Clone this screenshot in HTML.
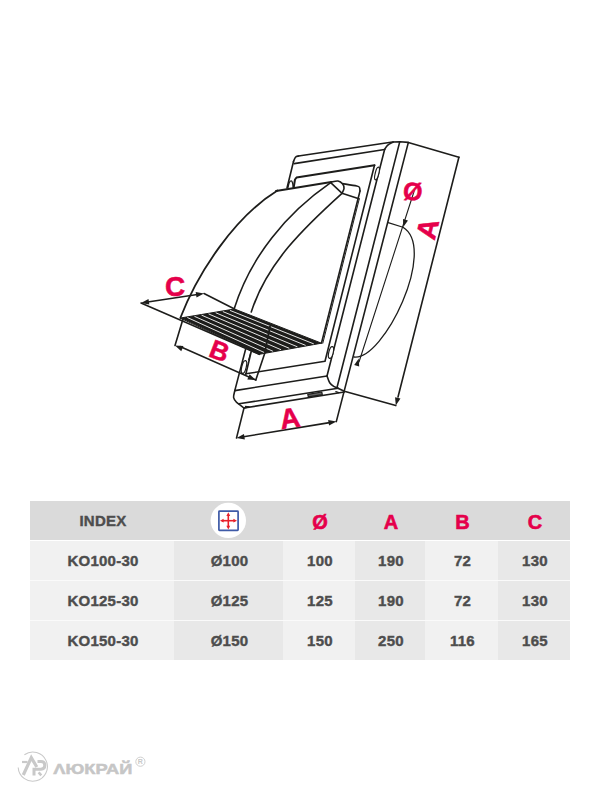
<!DOCTYPE html>
<html><head><meta charset="utf-8">
<style>
html,body{margin:0;padding:0;background:#fff;}
body{width:600px;height:800px;position:relative;overflow:hidden;font-family:"Liberation Sans",sans-serif;}
svg.dr{position:absolute;left:0;top:0;}
.lab{position:absolute;color:#e5004b;-webkit-text-stroke:0.5px #e5004b;font-weight:bold;font-size:28px;line-height:1;white-space:nowrap;}
.tbl{position:absolute;left:30px;top:501px;width:540px;height:159px;}
.cell{position:absolute;display:flex;align-items:center;justify-content:center;font-weight:bold;color:#4d4d4d;font-size:15px;letter-spacing:0.25px;-webkit-text-stroke:0.4px #4d4d4d;padding-left:2px;box-sizing:border-box;}
.hd{color:#e5004b;font-size:20px;letter-spacing:0;padding-left:2px;padding-top:3px;-webkit-text-stroke:0.6px #e5004b;}
</style></head><body>
<svg class="dr" width="600" height="800" viewBox="0 0 600 800">
<g fill="none" stroke="#1d1d1b" stroke-linejoin="round" stroke-linecap="round">
<path d="M293.5,161.5 C293.83,160.78 294.67,158.12 295.5,157.2 C296.33,156.28 298,156.2 298.5,156" stroke-width="1.6" />
<polyline points="298.5,156 392.5,142 400,141.7 408.3,142.4 458.9,157.2" stroke-width="1.6" />
<polyline points="458.9,157.2 398,397" stroke-width="1.6" />
<polygon points="395.8,405.6 395.06,397.16 400.48,398.54" fill="#1d1d1b" stroke="none"/>
<polyline points="293.5,161.5 287,188" stroke-width="1.6" />
<polyline points="294.2,163.6 384.6,149.5" stroke-width="1.6" />
<path d="M384.6,149.5 C385.08,148.8 386.05,146.55 387.5,145.3 C388.95,144.05 392.33,142.55 393.3,142" stroke-width="1.6" />
<polyline points="384.6,149.5 327,376" stroke-width="1.6" />
<path d="M327,376 C327.45,377.12 328.48,380.92 329.7,382.7 C330.92,384.48 332.92,385.77 334.3,386.7 C335.68,387.63 337.38,388.03 338,388.3" stroke-width="1.6" />
<polyline points="399.6,142.4 337,387.5" stroke-width="1.6" />
<polyline points="408.3,142.6 336.3,421.6" stroke-width="1.6" />
<polyline points="338,388.3 344.3,391.3 395.8,405.6" stroke-width="1.6" />
<polyline points="234.8,390.6 327,376" stroke-width="1.6" />
<polyline points="239,403.8 338,388.3" stroke-width="1.6" />
<polyline points="244,408 344.3,392" stroke-width="1.6" />
<polygon points="307.8,394.3 321.8,392 322.3,394.6 308.3,396.9" fill="#666" stroke="#1d1d1b" stroke-width="1.2"/>
<polyline points="335.8,391.6 338.8,392.6" stroke-width="1.2" />
<polyline points="245.6,349.2 234.8,390.6" stroke-width="1.6" />
<path d="M234.8,390.6 C234.6,391.75 233.32,395.55 233.6,397.5 C233.88,399.45 235.35,401 236.5,402.3 C237.65,403.6 239.25,404.35 240.5,405.3 C241.75,406.25 243.42,407.55 244,408" stroke-width="1.6" />
<polygon points="250.5,406.3 245.34,408.8 244.81,405.64" fill="#1d1d1b" stroke="none"/>
<polyline points="244,408 236.5,438" stroke-width="1.6" />
<polyline points="242,437 331,422.4" stroke-width="1.6" />
<polygon points="236.5,438 243.94,433.93 244.85,439.46" fill="#1d1d1b" stroke="none"/>
<polygon points="336.5,421.5 329.06,425.57 328.15,420.04" fill="#1d1d1b" stroke="none"/>
<polyline points="293.7,187.5 295,179.5 296.5,177.6 374.5,165.2" stroke-width="2" />
<polyline points="374.5,165.2 325,361.3 245.8,373.8" stroke-width="1.6" />
<polyline points="251.3,351.2 245.8,374.2" stroke-width="1.6" />
<polyline points="276,191 331.3,182" stroke-width="2.1" />
<path d="M277.5,190.5 C234.9,216.64 198.03,272.17 180.3,318" stroke-width="1.8" />
<path d="M330.7,182.7 C286.37,213.29 250.45,256.9 234.3,308.5" stroke-width="1.6" />
<path d="M342,193.3 C304.81,226.9 266.88,262.84 251.25,312" stroke-width="1.6" />
<path d="M331.3,182 C332.42,181.83 336.1,180.67 338,181 C339.9,181.33 341.7,182.75 342.7,184 C343.7,185.25 344.12,186.95 344,188.5 C343.88,190.05 342.33,192.5 342,193.3" stroke-width="1.6" />
<polyline points="330.7,182.7 341.6,192.8" stroke-width="1.6" />
<path d="M342.7,183.6 C345.03,184 353.92,185.37 356.7,186 C359.48,186.63 358.85,186.57 359.4,187.4 C359.95,188.23 359.9,190.4 360,191" stroke-width="1.6" />
<polyline points="342,193.3 358.9,198.8" stroke-width="1.6" />
<polyline points="360,191 321.5,343" stroke-width="1.6" />
<polyline points="359.3,198.8 322.8,343.2" stroke-width="1" />
<polygon points="180.5,318 234.5,309 321.5,343.2 259.3,354.3" fill="#1d1d1b" stroke="#1d1d1b" stroke-width="1"/>
<polyline points="141,303 259.3,354.3" stroke-width="1.6" />
<line x1="187.68" y1="317.65" x2="264.35" y2="352.53" stroke="#fff" stroke-width="0.9"/>
<line x1="194.79" y1="316.47" x2="272.53" y2="351.07" stroke="#fff" stroke-width="0.9"/>
<line x1="201.89" y1="315.28" x2="280.72" y2="349.61" stroke="#fff" stroke-width="0.9"/>
<line x1="209" y1="314.1" x2="288.9" y2="348.15" stroke="#fff" stroke-width="0.9"/>
<line x1="216.11" y1="312.92" x2="297.08" y2="346.69" stroke="#fff" stroke-width="0.9"/>
<line x1="223.21" y1="311.73" x2="305.27" y2="345.23" stroke="#fff" stroke-width="0.9"/>
<line x1="230.32" y1="310.55" x2="313.45" y2="343.77" stroke="#fff" stroke-width="0.9"/>
<polyline points="270,326.5 265,351.5" stroke-width="1.8" />
<polyline points="265,352.5 255.8,380" stroke-width="1.6" />
<polyline points="250.5,353 248.5,360" stroke-width="1" />
<path d="M288,187.5 C288.22,186.67 288.75,183.62 289.3,182.5 C289.85,181.38 290.75,180.72 291.3,180.8 C291.85,180.88 292.28,181.88 292.6,183 C292.92,184.12 293.1,186.75 293.2,187.5" stroke-width="1.3" />
<ellipse cx="377" cy="173.5" rx="1.8" ry="6.5" transform="rotate(14 377 173.5)" stroke-width="1.2" fill="#fff"/>
<ellipse cx="331" cy="352.5" rx="2.2" ry="6" transform="rotate(14 331 352.5)" stroke-width="1.2" fill="#fff"/>
<ellipse cx="244" cy="367" rx="2.2" ry="6.5" transform="rotate(14 244 367)" stroke-width="1.2" fill="#fff"/>
<polyline points="388.2,222.6 403,227.2" stroke-width="1.2" />
<path d="M403,227.2 C437.81,248.63 383.48,360.77 354,357" stroke-width="1.3" />
<polyline points="414.5,190 359,362" stroke-width="1.1" />
<polygon points="403.3,227 402.98,219.07 407.96,220.57" fill="#1d1d1b" stroke="none"/>
<polygon points="358.8,358.5 359.18,366.43 354.19,364.96" fill="#1d1d1b" stroke="none"/>
<polyline points="183,319 175,345.5" stroke-width="1.6" />
<polyline points="180,346.5 255.8,380" stroke-width="1.6" />
<polygon points="175,345.5 183.46,346.07 181.26,351.22" fill="#1d1d1b" stroke="none"/>
<polygon points="255.8,380 247.34,379.43 249.54,374.28" fill="#1d1d1b" stroke="none"/>
<polyline points="146,302.2 199,294.2" stroke-width="1.6" />
<polygon points="141,303 148.49,299.04 149.33,304.58" fill="#1d1d1b" stroke="none"/>
<polygon points="204,293.5 196.51,297.46 195.67,291.92" fill="#1d1d1b" stroke="none"/>
<polyline points="204,293.5 234.5,309" stroke-width="1.6" />
</g>
</svg>
<div class="lab" style="left:165px;top:273px;">C</div>
<div class="lab" style="left:209.8px;top:337.5px;font-size:26px;transform:rotate(21deg);">B</div>
<div class="lab" style="left:279.5px;top:405px;transform:rotate(-8deg);">A</div>
<div class="lab" style="left:403px;top:178.5px;font-size:25px;transform:rotate(6deg);">Ø</div>
<div class="lab" style="left:418px;top:215px;transform:rotate(-76deg);">A</div>

<div class="tbl">
 <div style="position:absolute;left:0;top:0;width:540px;height:39px;background:#dadada"></div>
 <div style="position:absolute;left:0;top:40px;width:144px;height:119px;background:#f1f1f1"></div>
 <div style="position:absolute;left:144px;top:40px;width:109px;height:119px;background:#e8e8e8"></div>
 <div style="position:absolute;left:253px;top:40px;width:72px;height:119px;background:#f1f1f1"></div>
 <div style="position:absolute;left:325px;top:40px;width:70px;height:119px;background:#e8e8e8"></div>
 <div style="position:absolute;left:395px;top:40px;width:73px;height:119px;background:#f1f1f1"></div>
 <div style="position:absolute;left:468px;top:40px;width:72px;height:119px;background:#e8e8e8"></div>
 <div style="position:absolute;left:0;top:79px;width:540px;height:1px;background:#fafafa"></div>
 <div style="position:absolute;left:0;top:119px;width:540px;height:1px;background:#fafafa"></div>
<div class="cell" style="left:0;top:0;width:144px;height:39px;">INDEX</div>
<div class="cell hd" style="left:253px;top:0;width:72px;height:39px;">Ø</div>
<div class="cell hd" style="left:325px;top:0;width:70px;height:39px;">A</div>
<div class="cell hd" style="left:395px;top:0;width:73px;height:39px;">B</div>
<div class="cell hd" style="left:468px;top:0;width:72px;height:39px;">C</div>
<div class="cell" style="left:0px;top:40px;width:144px;height:39px;">KO100-30</div>
<div class="cell" style="left:144px;top:40px;width:109px;height:39px;">Ø100</div>
<div class="cell" style="left:253px;top:40px;width:72px;height:39px;">100</div>
<div class="cell" style="left:325px;top:40px;width:70px;height:39px;">190</div>
<div class="cell" style="left:395px;top:40px;width:73px;height:39px;">72</div>
<div class="cell" style="left:468px;top:40px;width:72px;height:39px;">130</div>
<div class="cell" style="left:0px;top:80px;width:144px;height:39px;">KO125-30</div>
<div class="cell" style="left:144px;top:80px;width:109px;height:39px;">Ø125</div>
<div class="cell" style="left:253px;top:80px;width:72px;height:39px;">125</div>
<div class="cell" style="left:325px;top:80px;width:70px;height:39px;">190</div>
<div class="cell" style="left:395px;top:80px;width:73px;height:39px;">72</div>
<div class="cell" style="left:468px;top:80px;width:72px;height:39px;">130</div>
<div class="cell" style="left:0px;top:120px;width:144px;height:39px;">KO150-30</div>
<div class="cell" style="left:144px;top:120px;width:109px;height:39px;">Ø150</div>
<div class="cell" style="left:253px;top:120px;width:72px;height:39px;">150</div>
<div class="cell" style="left:325px;top:120px;width:70px;height:39px;">250</div>
<div class="cell" style="left:395px;top:120px;width:73px;height:39px;">116</div>
<div class="cell" style="left:468px;top:120px;width:72px;height:39px;">165</div>
<svg style="position:absolute;left:180px;top:1px" width="38" height="38" viewBox="0 0 38 38">
<circle cx="18.3" cy="18.4" r="17.7" fill="#fff"/>
<rect x="8.9" y="9.2" width="19.2" height="19.25" rx="0.6" fill="none" stroke="#3e5aa7" stroke-width="1.7"/>
<g stroke="#e8202a" stroke-width="1.6" fill="#e8202a">
<line x1="12" y1="18.7" x2="25" y2="18.7"/><line x1="18.3" y1="12.3" x2="18.3" y2="25.4"/>
<polygon points="10,18.7 13.6,16.8 13.6,20.6" stroke="none"/>
<polygon points="27,18.7 23.4,16.8 23.4,20.6" stroke="none"/>
<polygon points="18.3,10.3 16.4,13.9 20.2,13.9" stroke="none"/>
<polygon points="18.3,27.4 16.4,23.8 20.2,23.8" stroke="none"/>
</g></svg>
</div>
<svg style="position:absolute;left:0;top:740px" width="160" height="60" viewBox="0 740 160 60">
<g fill="none" stroke="#c9c9c9">
<path d="M24.4,754.7 A14.6,14.6 0 1 1 18.2,767.5" stroke-width="1.1"/>
<path d="M23.3,775 L31.3,757.6 L36.8,767" stroke-width="3.2" stroke-linejoin="miter"/>
<path d="M22,762 L27.5,762" stroke-width="2.2"/>
<path d="M34,775.5 L34,769.3 L41,769.3 Q44.8,769 44.8,765.3 Q44.8,761.6 41,761.6 L37.5,761.6" stroke-width="3"/>
<path d="M38.6,772.3 L41.3,775.3" stroke-width="2.6"/>
</g>
<text x="53.3" y="774.2" font-family="Liberation Sans" font-weight="bold" font-size="15" fill="#c6c6c6" stroke="#c6c6c6" stroke-width="0.5" textLength="79" lengthAdjust="spacingAndGlyphs">ΛЮКРАЙ</text>
<circle cx="140.4" cy="761.7" r="4.6" fill="none" stroke="#c9c9c9" stroke-width="0.9"/>
<text x="140.4" y="764.4" text-anchor="middle" font-family="Liberation Sans" font-weight="bold" font-size="7" fill="#c9c9c9">R</text>
</svg>
</body></html>
